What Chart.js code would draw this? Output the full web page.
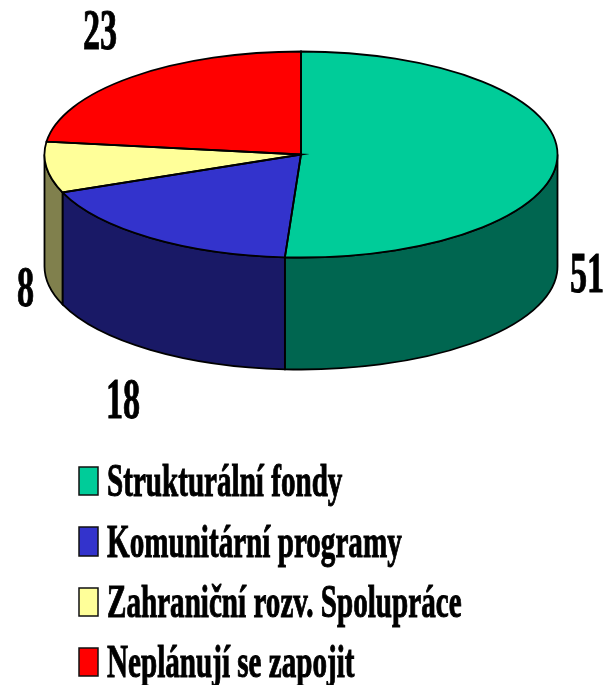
<!DOCTYPE html>
<html>
<head>
<meta charset="utf-8">
<title>Pie</title>
<script src="https://cdn.jsdelivr.net/npm/chart.js@4"></script>
<style>
  html, body { margin: 0; padding: 0; background: #fff; }
  canvas { display: block; }
</style>
</head>
<body>
<canvas id="pieChart" width="604" height="685"></canvas>
<script>
const categories = ['Strukturální fondy', 'Komunitární programy', 'Zahraniční rozv. Spolupráce', 'Neplánují se zapojit'];
const values = [51, 18, 8, 23];
const topColors = ['#00CC99', '#3333CC', '#FFFF99', '#FF0000'];
const sideColors = ['#006650', '#191966', '#80804D', '#800000'];

// the flattened disc
const squash = 103 / 256.5;
const depth = 112;

// where the number of each slice goes, in the order of the values
const valueLabelPos = [[570, 292], [106, 418], [17, 306], [83, 49]];
const legendTop = [467, 527, 588, 648];
const legendBase = [496, 557, 617, 677];

function fakeCondensed(ctx, text, x, y, size, sx) {
    ctx.save();
    ctx.translate(x, y);
    ctx.scale(sx, 1);
    ctx.font = 'bold ' + size + 'px "Liberation Serif"';
    ctx.fillStyle = '#000';
    ctx.strokeStyle = '#000';
    ctx.lineWidth = 1;
    ctx.textBaseline = 'alphabetic';
    ctx.fillText(text, 0, 0);
    // the reference text is heavier than plain bold
    ctx.strokeText(text, 0, 0);
    ctx.restore();
}

const pie3d = {
    id: 'pie3d',
    beforeDatasetsDraw(chart) {
        const ctx = chart.ctx;
        const arcs = chart.getDatasetMeta(0).data;
        const ry = arcs[0].outerRadius * squash;

        // side wall, only the front half of the disc shows it
        arcs.forEach(function(arc, i) {
            const a = Math.max(arc.startAngle, 0);
            const b = Math.min(arc.endAngle, Math.PI);
            if (b <= a) return;
            ctx.beginPath();
            ctx.ellipse(arc.x, arc.y, arc.outerRadius, ry, 0, a, b);
            ctx.ellipse(arc.x, arc.y + depth, arc.outerRadius, ry, 0, b, a, true);
            ctx.closePath();
            ctx.fillStyle = sideColors[i];
            ctx.fill();
            ctx.strokeStyle = '#000';
            ctx.lineWidth = 1.8;
            ctx.stroke();
        });

        // squash the slices the library draws next
        ctx.save();
        ctx.translate(arcs[0].x, arcs[0].y);
        ctx.scale(1, squash);
        ctx.translate(-arcs[0].x, -arcs[0].y);
    },
    afterDatasetsDraw(chart) {
        const ctx = chart.ctx;
        ctx.restore();

        // outlines here so the line width is not squashed
        const arcs = chart.getDatasetMeta(0).data;
        arcs.forEach(function(arc) {
            ctx.beginPath();
            ctx.moveTo(arc.x, arc.y);
            ctx.ellipse(arc.x, arc.y, arc.outerRadius, arc.outerRadius * squash, 0, arc.startAngle, arc.endAngle);
            ctx.closePath();
            ctx.strokeStyle = '#000';
            ctx.lineWidth = 1.8;
            ctx.stroke();
        });
    },
    afterDraw(chart) {
        const ctx = chart.ctx;
        values.forEach(function(v, i) {
            fakeCondensed(ctx, String(v), valueLabelPos[i][0], valueLabelPos[i][1], 57, 0.6);
        });
        categories.forEach(function(name, i) {
            ctx.fillStyle = topColors[i];
            ctx.strokeStyle = '#111';
            ctx.lineWidth = 1.5;
            ctx.fillRect(79, legendTop[i], 19, legendBase[i] - legendTop[i] - 1);
            ctx.strokeRect(79, legendTop[i], 19, legendBase[i] - legendTop[i] - 1);
            fakeCondensed(ctx, name, 107, legendBase[i], 46, 0.633);
        });
    }
};

new Chart(document.getElementById('pieChart'), {
    type: 'pie',
    data: {
        labels: categories,
        datasets: [{
            data: values,
            backgroundColor: topColors,
            borderWidth: 0,
            radius: 256.5
        }]
    },
    options: {
        responsive: false,
        animation: false,
        layout: { padding: { top: 0, left: 0, right: 2, bottom: 376 } },
        plugins: {
            legend: { display: false },
            tooltip: { enabled: false }
        }
    },
    plugins: [pie3d]
});
</script>
</body>
</html>
